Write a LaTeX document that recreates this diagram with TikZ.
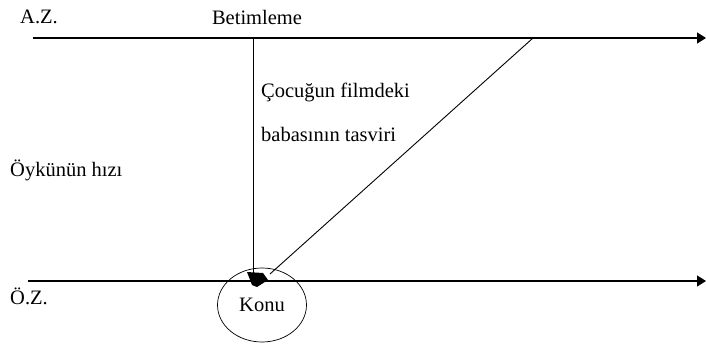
\documentclass[tikz,border=0pt]{standalone}
\usepackage{fontspec}
\setmainfont{Liberation Serif}
\usetikzlibrary{arrows.meta,shapes.geometric}
\begin{document}
\begin{tikzpicture}[x=1pt,y=-1pt,
  axis/.style={line width=1.2pt,-{Triangle[length=9pt,width=11pt]}},
  thin line/.style={line width=0.9pt},
  lbl/.style={font=\fontsize{20.5}{24}\selectfont,inner sep=0pt}]
\useasboundingbox (0,0) rectangle (706,345);
\coordinate (azs) at (33,38);
\coordinate (aze) at (706,38);
\coordinate (ozs) at (28,281);
\coordinate (oze) at (706,281);
\draw[axis] (azs) -- (aze);
\draw[axis] (ozs) -- (oze);
\coordinate (vtop) at (253,38);
\coordinate (vbot) at (253,274);
\coordinate (dtop) at (533,38);
\coordinate (dbot) at (270,274);
\draw[thin line] (vtop) -- (vbot);
\draw[thin line] (dtop) -- (dbot);
\fill (247,272) -- (263,273) -- (268,280) -- (257,287) -- (252,285) -- cycle;
\node[draw,ellipse,line width=0.7pt,minimum width=89pt,minimum height=74pt,inner sep=0pt] (konu) at (262,305) {};
\node[lbl] at (konu.center) {Konu};
\node[lbl,anchor=west] (az) at (20,17) {A.Z.};
\node[lbl] (bet) at (257,17) {Betimleme};
\node[lbl,anchor=west] (coc) at (261,92) {Çocuğun filmdeki};
\node[lbl,anchor=west] (bab) at (261,134) {babasının tasviri};
\node[lbl,anchor=west] (oyk) at (10,170) {Öykünün hızı};
\node[lbl,anchor=west] (oz) at (10,296) {Ö.Z.};
\end{tikzpicture}
\end{document}
